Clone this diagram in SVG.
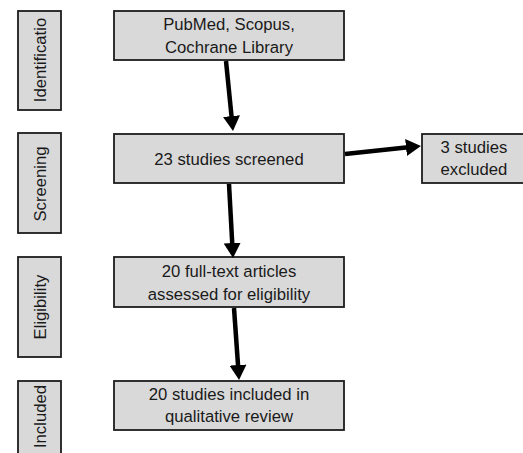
<svg xmlns="http://www.w3.org/2000/svg" width="523" height="453" viewBox="0 0 523 453">
<style>
.box{fill:#d9d9d9;stroke:#1c1c1c;stroke-width:1.8}
.t{font-family:"Liberation Sans",Arial,sans-serif;font-size:16.7px;fill:#1a1a1a;text-anchor:middle}
.arr{stroke:#000;stroke-width:4.5;fill:none;marker-end:url(#ah)}
</style>
<defs>
<marker id="ah" markerUnits="userSpaceOnUse" markerWidth="16" markerHeight="17" refX="7" refY="8.5" orient="auto">
<path d="M0,0 L15,8.5 L0,17 z" fill="#000"/>
</marker>
</defs>
<g id="stage-identification">
<rect class="box" x="18" y="11" width="43" height="99"/>
<text class="t" transform="translate(46,60) rotate(-90)">Identificatio</text>
</g>
<g id="stage-screening">
<rect class="box" x="18" y="133" width="43" height="100"/>
<text class="t" transform="translate(46,184) rotate(-90)">Screening</text>
</g>
<g id="stage-eligibility">
<rect class="box" x="18" y="257" width="43" height="100"/>
<text class="t" transform="translate(46,307) rotate(-90)">Eligibility</text>
</g>
<g id="stage-included">
<rect class="box" x="18" y="381" width="43" height="100"/>
<text class="t" transform="translate(46,416.5) rotate(-90)">Included</text>
</g>
<g id="node-sources">
<rect class="box" x="114" y="11" width="230" height="49"/>
<text class="t" x="229" y="30">PubMed, Scopus,</text>
<text class="t" x="229" y="53">Cochrane Library</text>
</g>
<g id="node-screened">
<rect class="box" x="114" y="134" width="230" height="49"/>
<text class="t" x="229" y="164.5">23 studies screened</text>
</g>
<g id="node-excluded">
<rect class="box" x="422" y="134" width="103" height="49"/>
<text class="t" x="474" y="153">3 studies</text>
<text class="t" x="474" y="175">excluded</text>
</g>
<g id="node-eligibility">
<rect class="box" x="114" y="257" width="230" height="50"/>
<text class="t" x="229" y="277">20 full-text articles</text>
<text class="t" x="229" y="300">assessed for eligibility</text>
</g>
<g id="node-included">
<rect class="box" x="114" y="381" width="230" height="49"/>
<text class="t" x="229" y="400">20 studies included in</text>
<text class="t" x="229" y="422">qualitative review</text>
</g>
<g id="connectors">
<line class="arr" x1="226" y1="61" x2="232.2" y2="123"/>
<line class="arr" x1="345" y1="154" x2="413" y2="146.8"/>
<line class="arr" x1="229" y1="184" x2="232.6" y2="250"/>
<line class="arr" x1="234" y1="308" x2="238.5" y2="372"/>
</g>
</svg>
